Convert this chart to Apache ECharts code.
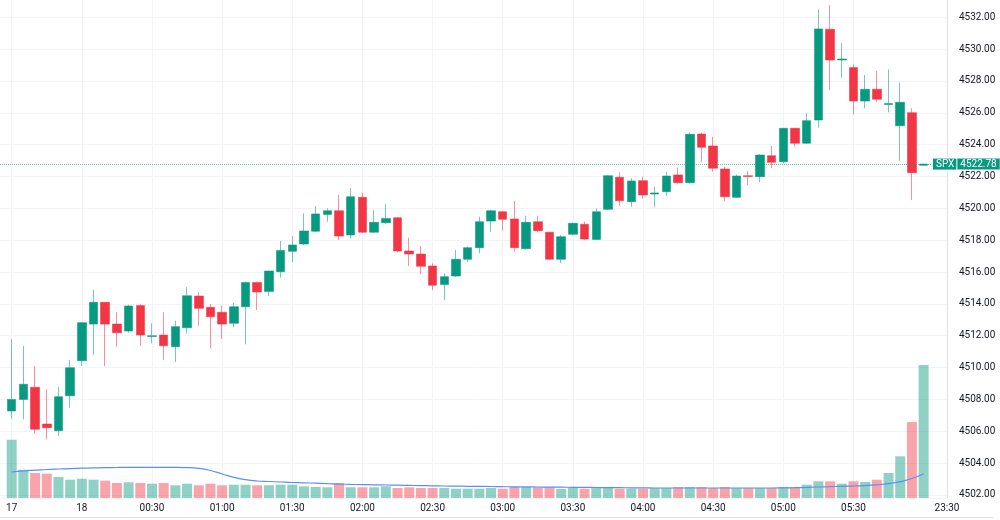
<!DOCTYPE html>
<html>
<head>
    <meta charset="UTF-8">
    <title>SPX 5m</title>
    <script src="https://cdn.jsdelivr.net/npm/echarts@6/dist/echarts.min.js"></script>
</head>
<body style="margin:0;background:#fff">
    <div id="main" style="width: 1000px;height:520px;"></div>
    <script type="text/javascript">
    // 5 minute candles
    const opens = [4507.27, 4508.00, 4508.76, 4506.45, 4506.03, 4508.23, 4510.43, 4512.73, 4514.10, 4512.73,
        4512.29, 4513.89, 4511.95, 4512.04, 4511.31, 4512.50, 4514.49, 4513.78, 4513.47, 4512.78,
        4513.82, 4515.35, 4514.77, 4516.02, 4517.30, 4517.76, 4518.56, 4519.62, 4519.85, 4518.33,
        4520.69, 4518.50, 4519.10, 4519.41, 4517.32, 4517.13, 4516.38, 4515.21, 4515.75, 4516.80,
        4517.53, 4519.20, 4519.79, 4519.33, 4517.47, 4519.16, 4518.50, 4516.80, 4518.37, 4519.00,
        4518.05, 4519.94, 4521.95, 4520.42, 4521.74, 4520.90, 4521.05, 4522.10, 4521.61, 4524.67,
        4523.92, 4522.47, 4520.69, 4522.05, 4521.99, 4523.31, 4522.93, 4525.03, 4524.09, 4525.55,
        4531.25, 4529.32, 4528.84, 4526.74, 4527.48, 4526.52, 4525.19, 4526.01, 4522.70];
    const closes = [4508.00, 4508.95, 4506.12, 4506.22, 4508.17, 4509.99, 4512.82, 4514.10, 4512.73, 4512.19,
        4513.87, 4512.04, 4512.00, 4511.37, 4512.57, 4514.51, 4513.72, 4513.19, 4512.73, 4513.82,
        4515.35, 4514.75, 4516.06, 4517.36, 4517.70, 4518.58, 4519.65, 4519.85, 4518.26, 4520.73,
        4518.50, 4519.12, 4519.37, 4517.32, 4517.13, 4516.36, 4515.17, 4515.71, 4516.80, 4517.53,
        4519.16, 4519.85, 4519.31, 4517.53, 4519.12, 4518.60, 4516.80, 4518.22, 4519.06, 4518.07,
        4519.79, 4522.05, 4520.48, 4521.72, 4520.84, 4520.97, 4522.03, 4521.61, 4524.65, 4523.83,
        4522.52, 4520.73, 4522.03, 4522.00, 4523.35, 4522.89, 4525.03, 4524.09, 4525.51, 4531.27,
        4529.32, 4529.38, 4526.74, 4527.48, 4526.85, 4526.58, 4526.66, 4522.24, 4522.78];
    const lows = [4506.79, 4506.75, 4505.83, 4505.49, 4505.70, 4507.48, 4510.10, 4510.79, 4510.10, 4511.31,
        4512.19, 4511.35, 4511.52, 4510.47, 4510.35, 4512.15, 4512.63, 4511.21, 4511.79, 4512.53,
        4511.46, 4513.61, 4514.49, 4515.64, 4516.61, 4517.70, 4518.50, 4519.16, 4518.01, 4518.12,
        4518.45, 4518.45, 4519.02, 4517.25, 4516.38, 4515.86, 4514.87, 4514.24, 4515.70, 4516.65,
        4517.18, 4518.53, 4518.60, 4517.28, 4517.40, 4518.50, 4516.75, 4516.55, 4518.30, 4518.00,
        4518.00, 4519.90, 4520.15, 4520.10, 4520.59, 4520.07, 4520.80, 4521.55, 4521.55, 4522.93,
        4522.30, 4520.46, 4520.65, 4521.47, 4521.64, 4522.52, 4522.85, 4523.87, 4524.05, 4525.07,
        4527.43, 4528.21, 4525.91, 4526.28, 4526.70, 4526.03, 4523.00, 4520.52, 4522.68];
    const highs = [4511.77, 4511.35, 4510.10, 4508.63, 4508.76, 4510.47, 4512.85, 4514.87, 4514.12, 4513.47,
        4513.95, 4513.97, 4512.78, 4513.47, 4512.94, 4515.04, 4514.73, 4513.99, 4513.89, 4514.07,
        4515.40, 4515.40, 4516.10, 4517.95, 4518.26, 4519.69, 4520.15, 4520.00, 4520.84, 4521.26,
        4520.98, 4519.89, 4520.25, 4519.45, 4518.16, 4517.63, 4516.55, 4515.92, 4517.38, 4517.60,
        4519.48, 4519.90, 4519.85, 4520.46, 4519.54, 4519.54, 4518.53, 4518.33, 4519.12, 4519.16,
        4520.00, 4522.10, 4522.26, 4521.89, 4521.99, 4521.36, 4522.30, 4522.56, 4524.78, 4524.75,
        4524.50, 4522.62, 4522.12, 4522.34, 4523.40, 4523.92, 4525.05, 4525.05, 4525.97, 4532.50,
        4532.77, 4530.37, 4529.05, 4528.38, 4528.63, 4528.73, 4527.89, 4526.28, 4522.80];
    const volumes = [583, 283, 250, 243, 210, 183, 193, 183, 173, 150,
        157, 150, 143, 150, 127, 143, 127, 143, 127, 133,
        133, 127, 127, 133, 133, 117, 110, 107, 150, 107,
        107, 107, 117, 100, 107, 100, 100, 100, 93, 93,
        93, 100, 93, 110, 110, 107, 107, 90, 100, 93,
        100, 100, 93, 93, 93, 100, 100, 110, 110, 110,
        100, 110, 100, 100, 100, 100, 110, 110, 133, 167,
        167, 143, 167, 160, 183, 250, 417, 760, 1330];
    const volumeMA = [260, 272, 278, 285, 290, 294, 298, 301, 303, 305,
        306, 306, 306, 306, 306, 304, 296, 275, 240, 206,
        183, 170, 165, 160, 155, 152, 148, 143, 139, 136,
        134, 132, 130, 128, 126, 124, 122, 120, 119, 117,
        116, 115, 113, 112, 111, 110, 109, 108, 107, 106,
        105, 104, 103, 102, 101, 100, 100, 100, 100, 100,
        100, 100, 100, 100, 100, 100, 101, 103, 106, 110,
        113, 117, 120, 124, 132, 143, 163, 195, 243];
    const lastPrice = 4522.78;
    const symbol = 'SPX';

    // time scale: one empty slot in front, two after the last candle
    const tickIdx = [1, 7, 13, 19, 25, 31, 37, 43, 49, 55, 61, 67, 73, 81];
    const tickText = ['17', '18', '00:30', '01:00', '01:30', '02:00', '02:30', '03:00',
        '03:30', '04:00', '04:30', '05:00', '05:30', '23:30'];
    const priceTicks = [4502, 4504, 4506, 4508, 4510, 4512, 4514, 4516,
        4518, 4520, 4522, 4524, 4526, 4528, 4530, 4532];

    const UP = '#089981', DOWN = '#f23645';
    const FONT = '"Liberation Sans Narrow", Roboto, sans-serif';
    const slots = 82;
    const categories = [];
    for (let k = 0; k < slots; k++) {
        const t = tickIdx.indexOf(k);
        categories.push(t >= 0 ? tickText[t] : 'c' + k);
    }
    const showTick = (idx) => tickIdx.indexOf(idx) >= 0;

    const candleData = ['-'];
    const volData = ['-'];
    const maData = ['-'];
    opens.forEach((o, i) => {
        candleData.push([o, closes[i], lows[i], highs[i]]);
        const up = closes[i] >= o;
        volData.push({
            value: volumes[i],
            itemStyle: { color: up ? 'rgba(8,153,129,0.45)' : 'rgba(242,54,69,0.45)' }
        });
        maData.push(volumeMA[i]);
    });
    while (candleData.length < slots) {
        candleData.push('-');
        volData.push('-');
        maData.push('-');
    }

    var myChart = echarts.init(document.getElementById('main'));
    var option = {
        animation: false,
        backgroundColor: '#ffffff',
        textStyle: { fontFamily: FONT },
        graphic: [{
            // widget frame bottom edge
            type: 'line',
            silent: true,
            shape: { x1: 0, y1: 517.5, x2: 993, y2: 517.5 },
            style: { stroke: '#e0e3eb', lineWidth: 1 }
        }],
        grid: [
            { left: 0, right: 53, top: 0, bottom: 22 },
            { left: 0, right: 53, top: 298, bottom: 22 }
        ],
        xAxis: [
            {
                type: 'category',
                data: categories,
                boundaryGap: false,
                gridIndex: 0,
                axisLine: { show: true, lineStyle: { color: '#f0f3fa' } },
                axisTick: { show: false },
                axisLabel: {
                    interval: (idx) => showTick(idx),
                    formatter: (v) => (v.charAt(0) === 'c' ? '' : v),
                    color: '#131722',
                    fontFamily: FONT,
                    fontSize: 10,
                    margin: 5
                },
                splitLine: {
                    show: true,
                    interval: (idx) => showTick(idx),
                    lineStyle: { color: '#f0f3fa' }
                }
            },
            {
                type: 'category',
                data: categories,
                boundaryGap: false,
                gridIndex: 1,
                show: false
            }
        ],
        yAxis: [
            {
                type: 'value',
                position: 'right',
                gridIndex: 0,
                min: 4501.806,
                max: 4533.087,
                splitNumber: 15,
                axisLine: { show: true, lineStyle: { color: '#e0e3eb' } },
                axisTick: { show: false, customValues: priceTicks },
                axisLabel: {
                    customValues: priceTicks,
                    formatter: (v) => v.toFixed(2),
                    color: '#131722',
                    fontFamily: FONT,
                    fontSize: 10,
                    margin: 12
                },
                splitLine: { show: true, lineStyle: { color: '#f0f3fa' } }
            },
            {
                type: 'value',
                gridIndex: 1,
                min: 0,
                max: 2000,
                show: false,
                splitLine: { show: false }
            }
        ],
        series: [
            {
                type: 'bar',
                name: 'Volume',
                xAxisIndex: 1,
                yAxisIndex: 1,
                data: volData,
                barWidth: 10
            },
            {
                type: 'line',
                name: 'Volume MA',
                xAxisIndex: 1,
                yAxisIndex: 1,
                data: maData,
                smooth: true,
                symbol: 'none',
                lineStyle: { color: '#5b8ff9', width: 1.2 }
            },
            {
                type: 'candlestick',
                name: symbol,
                xAxisIndex: 0,
                yAxisIndex: 0,
                data: candleData,
                barWidth: 9,
                itemStyle: {
                    color: UP,
                    color0: DOWN,
                    borderColor: 'rgba(8,153,129,0.55)',
                    borderColor0: 'rgba(242,54,69,0.55)',
                    borderWidth: 1
                },
                markLine: {
                    silent: true,
                    symbol: 'none',
                    data: [{ yAxis: lastPrice }],
                    lineStyle: { color: 'rgba(8,153,129,0.6)', type: 'dotted', width: 1 },
                    label: {
                        position: 'end',
                        distance: -14,
                        formatter: '{s|' + symbol + '}{p|' + lastPrice.toFixed(2) + '}',
                        rich: {
                            s: {
                                backgroundColor: UP, color: '#fff', fontSize: 10, fontFamily: FONT,
                                padding: [1, 3, 0, 3], borderColor: '#fff', borderWidth: 1, lineHeight: 11
                            },
                            p: {
                                backgroundColor: UP, color: '#fff', fontSize: 10, fontFamily: FONT,
                                padding: [1, 3, 0, 3], borderColor: '#fff', borderWidth: 1, lineHeight: 11
                            }
                        }
                    }
                }
            }
        ]
    };
    myChart.setOption(option);
    </script>
</body>
</html>
